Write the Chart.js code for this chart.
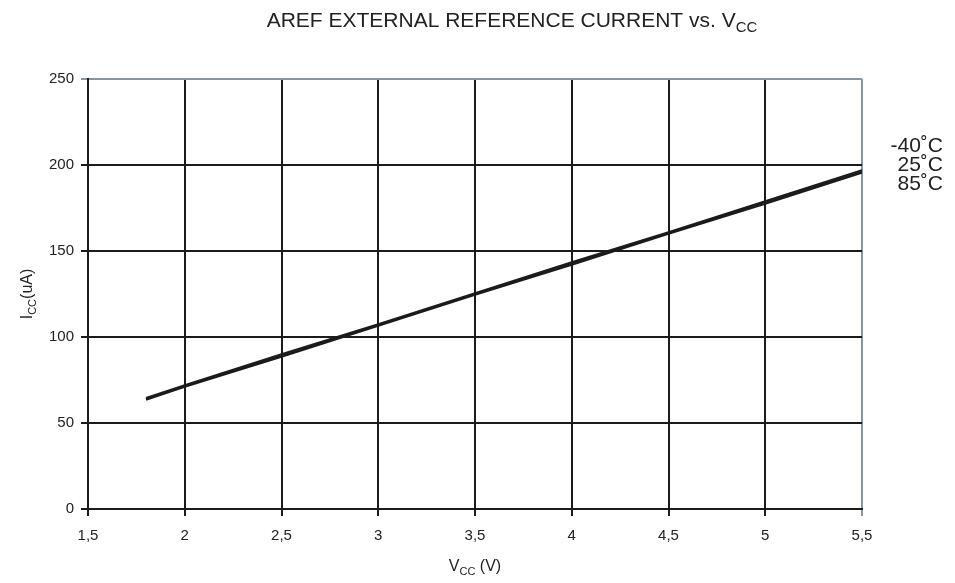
<!DOCTYPE html>
<html>
<head>
<meta charset="utf-8">
<script src="https://cdn.jsdelivr.net/npm/chart.js@4/dist/chart.umd.min.js"></script>
<style>
  html, body { margin: 0; padding: 0; background: #fff; }
  #wrap { width: 955px; height: 583px; }
</style>
</head>
<body>
<div id="wrap"><canvas id="arefChart" width="955" height="583"></canvas></div>
<script>
// values
const vcc = [1.8, 2.0, 2.5, 3.0, 3.5, 4.0, 4.5, 5.0, 5.5];
const iccMinus40 = [64.5, 72, 90, 107.5, 125.5, 143.5, 161, 179, 197];
const icc25 = [64, 71.5, 89, 107, 125, 143, 160.5, 178.5, 196];
const icc85 = [63.5, 71, 88.5, 106.5, 124.5, 142, 160, 177.5, 195.5];
const seriesNames = ['-40˚C', '25˚C', '85˚C'];
const xTickLabels = ['1,5', '2', '2,5', '3', '3,5', '4', '4,5', '5', '5,5'];

const FONT = '"Liberation Sans", Arial, Helvetica, sans-serif';
const ink = '#1b1b1b';
const frameGray = '#8c959b';

// text with subscripts: parts = [[text, isSub], ...]
function drawSubText(ctx, parts, x, y, size, align) {
  const subSize = Math.round(size * 0.7);
  let total = 0;
  parts.forEach(([t, sub]) => {
    ctx.font = (sub ? subSize : size) + 'px ' + FONT;
    total += ctx.measureText(t).width;
  });
  let cx = align === 'center' ? x - total / 2 : x;
  ctx.textAlign = 'left';
  ctx.textBaseline = 'alphabetic';
  parts.forEach(([t, sub]) => {
    ctx.font = (sub ? subSize : size) + 'px ' + FONT;
    ctx.fillText(t, cx, sub ? y + size * 0.25 : y);
    cx += ctx.measureText(t).width;
  });
}

const labelsPlugin = {
  id: 'labelsPlugin',
  afterDraw(chart) {
    const ctx = chart.ctx;
    const area = chart.chartArea;
    ctx.save();
    ctx.fillStyle = '#222';
    // title
    drawSubText(ctx, [['AREF EXTERNAL REFERENCE CURRENT vs. V', false], ['CC', true]], 512, 27, 21, 'center');
    // x axis title
    drawSubText(ctx, [['V', false], ['CC', true], [' (V)', false]], (area.left + area.right) / 2, 571, 16, 'center');
    // y axis title
    ctx.translate(32, (area.top + area.bottom) / 2);
    ctx.rotate(-Math.PI / 2);
    drawSubText(ctx, [['I', false], ['CC', true], ['(uA)', false]], 0, 0, 16, 'center');
    ctx.restore();

    // series names at right of the plot
    ctx.save();
    ctx.fillStyle = '#222';
    ctx.font = '21px ' + FONT;
    ctx.textAlign = 'right';
    ctx.textBaseline = 'middle';
    seriesNames.forEach((n, i) => ctx.fillText(n, 943, 146 + i * 19));
    ctx.restore();
  }
};

const mkSet = (label, data) => ({
  label,
  data: vcc.map((v, i) => ({ x: v, y: data[i] })),
  borderColor: ink,
  borderWidth: 2,
  pointRadius: 0,
  fill: false,
  tension: 0
});

new Chart(document.getElementById('arefChart'), {
  type: 'line',
  data: {
    datasets: [
      mkSet(seriesNames[0], iccMinus40),
      mkSet(seriesNames[1], icc25),
      mkSet(seriesNames[2], icc85)
    ]
  },
  options: {
    responsive: false,
    animation: false,
    layout: { padding: { left: 0, right: 93, top: 79, bottom: 0 } },
    plugins: { legend: { display: false }, tooltip: { enabled: false }, title: { display: false } },
    scales: {
      x: {
        type: 'linear',
        min: 1.5,
        max: 5.5,
        afterFit: (s) => { s.height = 74; },
        afterBuildTicks: (s) => { s.ticks = xTickLabels.map((_, i) => ({ value: 1.5 + i * 0.5 })); },
        ticks: {
          color: '#222',
          font: { family: FONT, size: 15 },
          padding: 11,
          maxRotation: 0,
          callback: (v, i) => xTickLabels[i]
        },
        grid: {
          color: (c) => (c.tick && c.tick.value === 5.5 ? frameGray : ink),
          lineWidth: 2,
          tickLength: 7
        },
        border: { color: ink, width: 2 }
      },
      y: {
        min: 0,
        max: 250,
        afterFit: (s) => { s.width = 88; },
        ticks: {
          stepSize: 50,
          color: '#222',
          font: { family: FONT, size: 15 },
          padding: 7
        },
        grid: {
          color: (c) => (c.tick && c.tick.value === 250 ? frameGray : ink),
          lineWidth: 2,
          tickLength: 7
        },
        border: { color: ink, width: 2 }
      }
    }
  },
  plugins: [labelsPlugin]
});
</script>
</body>
</html>
